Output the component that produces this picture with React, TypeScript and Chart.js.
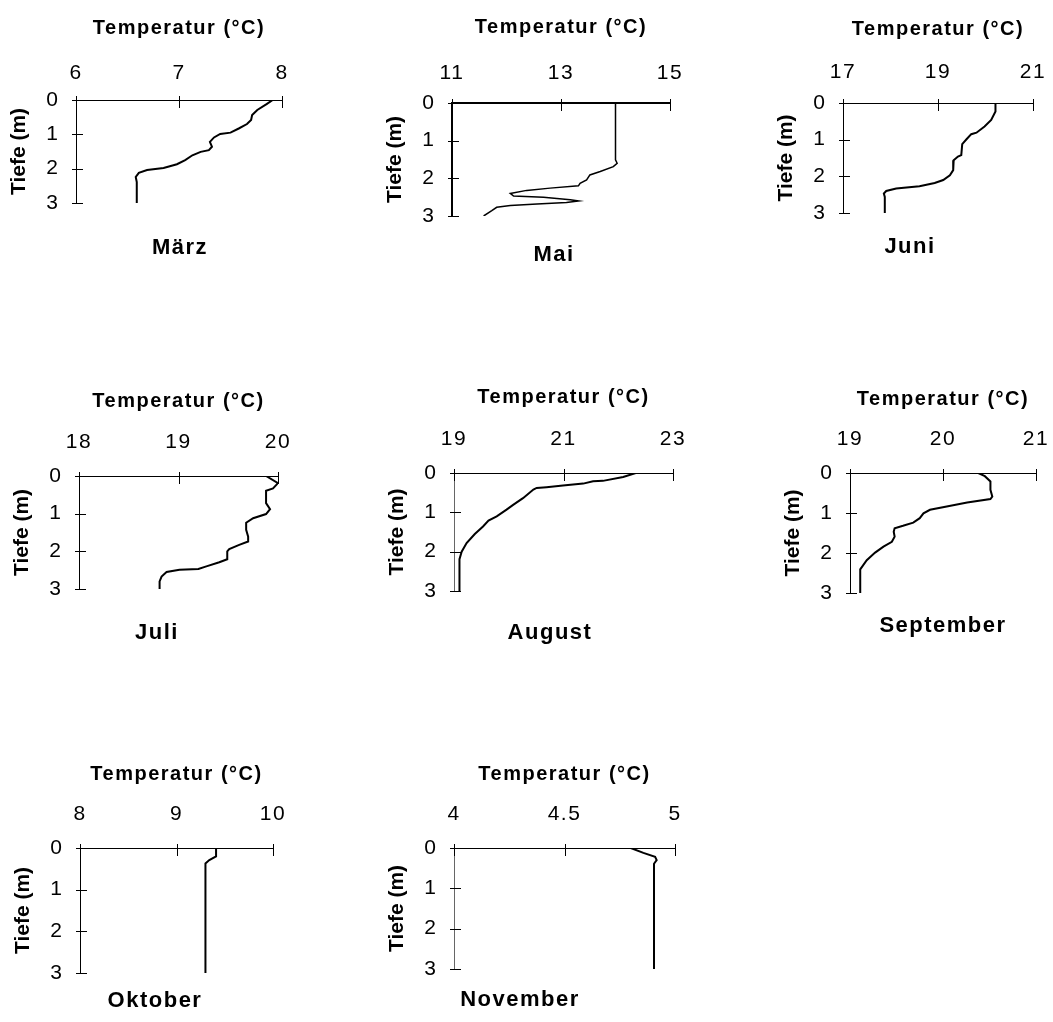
import React, { useEffect, useRef } from 'react';
import { Chart, registerables } from 'chart.js';
Chart.register(...registerables);

// ---------- data ----------
const months = ['März', 'Mai', 'Juni', 'Juli', 'August', 'September', 'Oktober', 'November'];
const xMin = [6, 11, 17, 18, 19, 19, 8, 4];
const xMax = [8, 15, 21, 20, 23, 21, 10, 5];
const xStep = [1, 2, 2, 1, 2, 1, 1, 0.5];
const depthMin = 0;
const depthMax = 3;
const depthStep = 1;

const maerzTemp = [7.91, 7.85, 7.76, 7.71, 7.70, 7.66, 7.58, 7.50, 7.40, 7.34, 7.30, 7.32, 7.29, 7.21, 7.13, 7.06, 6.98, 6.85, 6.69, 6.61, 6.58, 6.59, 6.59];
const maerzDepth = [0, 0.12, 0.29, 0.44, 0.58, 0.70, 0.83, 0.95, 0.99, 1.09, 1.22, 1.36, 1.46, 1.51, 1.61, 1.75, 1.87, 1.98, 2.04, 2.12, 2.24, 2.39, 3.0];

const maiTemp = [14.0, 14.0, 14.03, 13.96, 13.72, 13.53, 13.47, 13.35, 13.32, 12.80, 12.37, 12.07, 12.13, 12.68, 13.17, 13.32, 13.10, 12.56, 12.07, 11.82, 11.73, 11.58];
const maiDepth = [0, 1.51, 1.60, 1.69, 1.82, 1.91, 2.04, 2.13, 2.20, 2.26, 2.32, 2.40, 2.47, 2.50, 2.57, 2.60, 2.64, 2.68, 2.72, 2.77, 2.86, 3.0];

const juniTemp = [20.21, 20.21, 20.12, 19.98, 19.81, 19.70, 19.60, 19.51, 19.49, 19.42, 19.33, 19.32, 19.25, 19.11, 18.93, 18.61, 18.12, 17.91, 17.86, 17.88, 17.88];
const juniDepth = [0, 0.23, 0.46, 0.64, 0.81, 0.85, 0.99, 1.12, 1.42, 1.46, 1.56, 1.83, 1.97, 2.10, 2.18, 2.27, 2.33, 2.40, 2.47, 2.56, 3.0];

const juliTemp = [19.88, 20.0, 19.95, 19.88, 19.88, 19.92, 19.88, 19.75, 19.68, 19.68, 19.70, 19.70, 19.61, 19.51, 19.49, 19.49, 19.41, 19.28, 19.20, 19.01, 18.88, 18.83, 18.81, 18.81];
const juliDepth = [0, 0.19, 0.33, 0.39, 0.72, 0.88, 1.01, 1.12, 1.24, 1.43, 1.61, 1.74, 1.83, 1.94, 2.00, 2.21, 2.29, 2.40, 2.47, 2.49, 2.55, 2.67, 2.80, 3.0];

const augustTemp = [22.32, 22.09, 21.72, 21.54, 21.36, 20.99, 20.69, 20.51, 20.45, 20.26, 20.08, 19.96, 19.78, 19.63, 19.53, 19.38, 19.23, 19.14, 19.10, 19.10];
const augustDepth = [0, 0.10, 0.20, 0.21, 0.27, 0.32, 0.36, 0.38, 0.42, 0.64, 0.81, 0.93, 1.10, 1.21, 1.36, 1.55, 1.78, 2.00, 2.19, 3.0];

const septemberTemp = [20.38, 20.45, 20.51, 20.51, 20.53, 20.51, 20.26, 20.04, 19.86, 19.79, 19.75, 19.68, 19.57, 19.48, 19.47, 19.48, 19.45, 19.36, 19.27, 19.18, 19.11, 19.11];
const septemberDepth = [0, 0.08, 0.21, 0.42, 0.59, 0.65, 0.74, 0.84, 0.92, 1.01, 1.13, 1.24, 1.32, 1.38, 1.47, 1.59, 1.72, 1.84, 1.99, 2.18, 2.41, 3.0];

const oktoberTemp = [9.41, 9.41, 9.34, 9.30, 9.30];
const oktoberDepth = [0, 0.20, 0.29, 0.37, 3.0];

const novemberTemp = [4.80, 4.857, 4.91, 4.917, 4.905, 4.905];
const novemberDepth = [0, 0.12, 0.22, 0.30, 0.39, 3.0];

const temps = [maerzTemp, maiTemp, juniTemp, juliTemp, augustTemp, septemberTemp, oktoberTemp, novemberTemp];
const depths = [maerzDepth, maiDepth, juniDepth, juliDepth, augustDepth, septemberDepth, oktoberDepth, novemberDepth];

const xTitle = 'Temperatur (°C)';
const yTitle = 'Tiefe (m)';

// ---------- layout (plot rectangles on the page, month label centre, paddings) ----------
const frames = [
  { L: 76, T: 100, R: 282, B: 203, mx: 180, my: 248, tp: 13.8, ttl: 16.5, bw: 1, yc: '#000', lw: 2 },
  { L: 452, T: 103, R: 670, B: 216, mx: 554, my: 255, tp: 16.8, ttl: 12.5, bw: 2, yc: '#000', lw: 1.5 },
  { L: 843, T: 103, R: 1033, B: 213, mx: 910, my: 247, tp: 17.8, ttl: 14.5, bw: 1, yc: '#000', lw: 2 },
  { L: 79, T: 476, R: 278, B: 589, mx: 157, my: 633, tp: 20.8, ttl: 13.5, bw: 1, yc: '#000', lw: 2 },
  { L: 454, T: 473, R: 673, B: 591, mx: 550, my: 633, tp: 20.8, ttl: 12.5, bw: 1, yc: '#666', lw: 2 },
  { L: 850, T: 473, R: 1036, B: 593, mx: 943, my: 626, tp: 20.8, ttl: 14.5, bw: 1, yc: '#000', lw: 2 },
  { L: 80, T: 848, R: 273, B: 973, mx: 155, my: 1001, tp: 21.4, ttl: 14.5, bw: 1, yc: '#000', lw: 2 },
  { L: 454, T: 848, R: 675, B: 969, mx: 520, my: 1000, tp: 21.4, ttl: 14.5, bw: 1, yc: '#666', lw: 2 },
];

const FAMILY = "'Liberation Sans', Arial, Helvetica, sans-serif";
const TOP_H = 100;

// wide spacing for the top title, ticks and month label; normal spacing for the
// depth axis, whose layers are drawn after the datasets (z = 1)
const spacingPlugin = {
  id: 'letterSpacing',
  beforeDraw(chart: any) {
    try { (chart.ctx as any).letterSpacing = '1.5px'; } catch (e) { /* ignore */ }
  },
  afterDatasetsDraw(chart: any) {
    try { (chart.ctx as any).letterSpacing = '0px'; } catch (e) { /* ignore */ }
  },
};

const crossTicks = {
  id: 'crossTicks',
  afterDraw(chart: any) {
    const { ctx, chartArea, scales } = chart;
    const xs = scales.x, ys = scales.y;
    ctx.save();
    ctx.strokeStyle = '#000';
    ctx.lineWidth = 1;
    ctx.beginPath();
    xs.ticks.forEach((t: any) => {
      const px = Math.round(xs.getPixelForValue(t.value)) + 0.5;
      ctx.moveTo(px, chartArea.top - 4);
      ctx.lineTo(px, chartArea.top + 8);
    });
    ys.ticks.forEach((t: any) => {
      const py = Math.round(ys.getPixelForValue(t.value)) + 0.5;
      ctx.moveTo(chartArea.left - 4, py);
      ctx.lineTo(chartArea.left + 7, py);
    });
    ctx.stroke();
    ctx.restore();
  },
};

function Panel({ idx }: { idx: number }) {
  const ref = useRef<HTMLCanvasElement>(null);
  const f = frames[idx];
  const W = f.R - f.L;
  const H = f.B - f.T;
  // right spacer width X and left axis width Wy so that the canvas centre is the month label centre
  const X = Math.max(42, 2 * f.mx - f.L - f.R + 72);
  const Wy = f.L + f.R + X - 2 * f.mx;
  const lineH = 22 * 1.2;
  const pt = f.my - f.B - lineH / 2;
  const Mb = Math.ceil(pt + lineH + 8);
  const pb = Mb - pt - lineH;
  const cw = Wy + W + X;
  const ch = TOP_H + H + Mb;

  useEffect(() => {
    if (!ref.current) return;
    const data = temps[idx].map((t, i) => ({ x: t, y: depths[idx][i] }));
    const chart = new Chart(ref.current, {
      type: 'scatter',
      data: {
        datasets: [
          {
            data,
            showLine: true,
            borderColor: '#000',
            backgroundColor: '#000',
            borderWidth: f.lw,
            pointRadius: 0,
            tension: 0,
            fill: false,
            xAxisID: 'x',
            yAxisID: 'y',
          },
        ],
      },
      options: {
        responsive: false,
        animation: false,
        layout: { padding: 0 },
        plugins: {
          legend: { display: false },
          tooltip: { enabled: false },
          title: {
            display: true,
            text: months[idx],
            position: 'bottom',
            color: '#000',
            font: { size: 22, weight: 'bold', family: FAMILY },
            padding: { top: pt, bottom: pb },
          },
        },
        scales: {
          x: {
            type: 'linear',
            position: 'top',
            min: xMin[idx],
            max: xMax[idx],
            ticks: {
              stepSize: xStep[idx],
              color: '#000',
              padding: f.tp,
              font: { size: 21, family: FAMILY },
              callback: (v: any) => String(v),
            },
            grid: { display: false, drawTicks: false },
            border: { display: true, color: '#000', width: f.bw },
            title: {
              display: true,
              text: xTitle,
              color: '#000',
              font: { size: 20, weight: 'bold', family: FAMILY },
              padding: { top: f.ttl, bottom: 0 },
            },
            afterFit: (s: any) => { s.height = TOP_H; },
          },
          y: {
            type: 'linear',
            position: 'left',
            reverse: true,
            min: depthMin,
            max: depthMax,
            ticks: {
              stepSize: depthStep,
              color: '#000',
              padding: 18,
              font: { size: 21, family: FAMILY },
              z: 1,
            },
            grid: { display: false, drawTicks: false, z: 1 },
            border: { display: true, color: f.yc, width: f.bw, z: 1 },
            title: {
              display: true,
              text: yTitle,
              color: '#000',
              font: { size: 21, weight: 'bold', family: FAMILY },
              padding: { top: Wy - 69.1, bottom: 0 },
            },
            afterFit: (s: any) => { s.width = Wy; },
          },
          spacer: {
            type: 'linear',
            position: 'right',
            min: depthMin,
            max: depthMax,
            ticks: { display: false },
            grid: { display: false, drawTicks: false },
            border: { display: false },
            title: { display: false },
            afterFit: (s: any) => { s.width = X; },
          },
        },
      } as any,
      plugins: [spacingPlugin, crossTicks],
    });
    return () => chart.destroy();
  }, [idx]);

  return (
    <div
      style={{
        position: 'absolute',
        left: f.L - Wy,
        top: f.T - TOP_H,
        width: cw,
        height: ch,
      }}
    >
      <canvas ref={ref} width={cw} height={ch} style={{ width: cw, height: ch, display: 'block' }} />
    </div>
  );
}

export default function App() {
  return (
    <div
      style={{
        position: 'absolute',
        left: 0,
        top: 0,
        width: 1053,
        height: 1022,
        overflow: 'hidden',
        background: '#fff',
      }}
    >
      {months.map((m, i) => (
        <Panel key={m} idx={i} />
      ))}
    </div>
  );
}
